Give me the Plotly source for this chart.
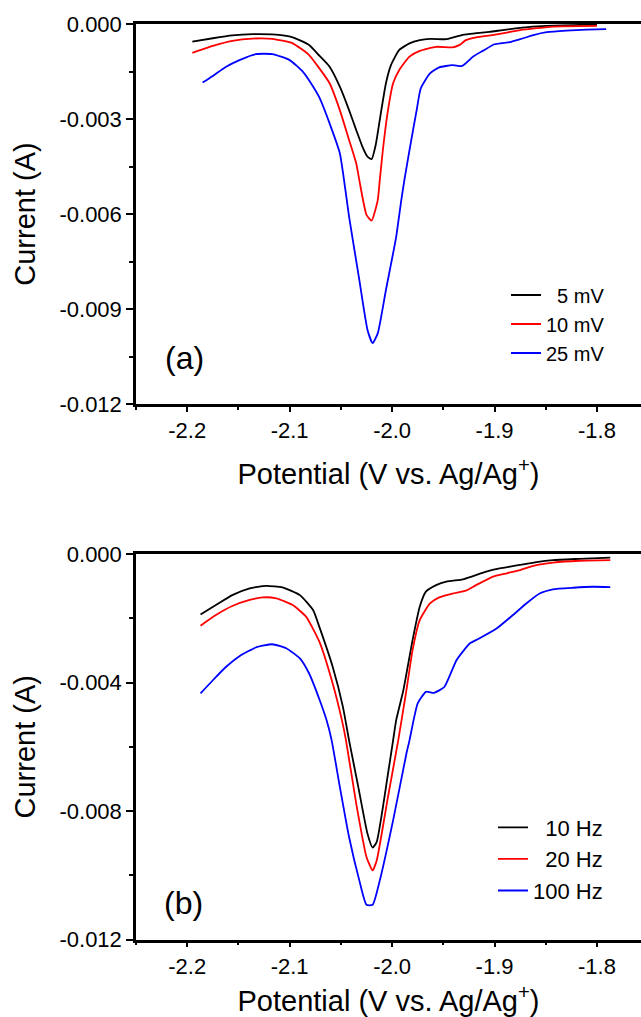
import plotly.graph_objects as go

# ---------------- data ----------------
# Panel (a): pulse amplitude series
pot_5mV = [-2.195, -2.175, -2.156, -2.136, -2.117, -2.097, -2.081, -2.071, -2.061, -2.051,
           -2.042, -2.035, -2.029, -2.024, -2.020, -2.016, -2.011, -2.006, -2.001, -1.993,
           -1.983, -1.973, -1.963, -1.947, -1.941, -1.931, -1.918, -1.905, -1.892, -1.875,
           -1.849, -1.817, -1.800]
cur_5mV = [-0.00056, -0.00045, -0.00036, -0.00032, -0.00033, -0.00042, -0.00066, -0.00100, -0.00135, -0.00198,
           -0.00272, -0.00335, -0.00387, -0.00419, -0.00427, -0.00382, -0.00282, -0.00187, -0.00129, -0.00082,
           -0.00061, -0.00051, -0.00047, -0.00048, -0.00043, -0.00034, -0.00029, -0.00025, -0.00019, -0.00012,
           -0.00006, -0.00003, -0.00002]

pot_10mV = [-2.195, -2.175, -2.156, -2.136, -2.117, -2.097, -2.081, -2.071, -2.061, -2.051,
            -2.042, -2.035, -2.032, -2.025, -2.020, -2.014, -2.012, -2.009, -2.004, -1.999,
            -1.993, -1.983, -1.973, -1.957, -1.941, -1.934, -1.928, -1.918, -1.902, -1.888,
            -1.875, -1.859, -1.843, -1.800]
cur_10mV = [-0.00091, -0.00069, -0.00053, -0.00046, -0.00047, -0.00061, -0.00098, -0.00140, -0.00187, -0.00272,
            -0.00366, -0.00440, -0.00493, -0.00603, -0.00621, -0.00556, -0.00493, -0.00398, -0.00272, -0.00187,
            -0.00145, -0.00103, -0.00085, -0.00072, -0.00074, -0.00066, -0.00051, -0.00042, -0.00035, -0.00027,
            -0.00019, -0.00013, -0.00008, -0.00006]

pot_25mV = [-2.185, -2.175, -2.162, -2.149, -2.133, -2.117, -2.100, -2.087, -2.077, -2.071,
            -2.061, -2.051, -2.042, -2.032, -2.024, -2.019, -2.014, -2.006,
            -1.996, -1.991, -1.988, -1.983, -1.976, -1.972, -1.963, -1.954, -1.941, -1.932,
            -1.928, -1.921, -1.911, -1.900, -1.885, -1.875, -1.862, -1.849, -1.830, -1.810,
            -1.791]
cur_25mV = [-0.00185, -0.00164, -0.00135, -0.00114, -0.00095, -0.00095, -0.00114, -0.00151, -0.00198, -0.00232,
            -0.00314, -0.00408, -0.00608, -0.00808, -0.00966, -0.01008, -0.00977, -0.00840,
            -0.00672, -0.00556, -0.00493, -0.00398, -0.00272, -0.00203, -0.00156, -0.00137, -0.00130, -0.00133,
            -0.00124, -0.00103, -0.00084, -0.00064, -0.00057, -0.00048, -0.00035, -0.00026, -0.00021, -0.00018,
            -0.00016]

# Panel (b): frequency series
pot_10Hz = [-2.187, -2.172, -2.156, -2.139, -2.123, -2.107, -2.090, -2.077, -2.071, -2.058,
            -2.048, -2.042, -2.033, -2.024, -2.019, -2.015, -2.004, -1.999, -1.996,
            -1.989, -1.980, -1.973, -1.967, -1.957, -1.947, -1.931, -1.921, -1.908, -1.895,
            -1.875, -1.859, -1.843, -1.817, -1.787]
cur_10Hz = [-0.00188, -0.00159, -0.00128, -0.00107, -0.00099, -0.00104, -0.00128, -0.00175, -0.00227, -0.00351,
            -0.00476, -0.00580, -0.00725, -0.00871, -0.00914, -0.00896, -0.00684, -0.00580, -0.00517,
            -0.00424, -0.00268, -0.00164, -0.00117, -0.00097, -0.00086, -0.00079, -0.00069, -0.00055, -0.00045,
            -0.00034, -0.00025, -0.00019, -0.00015, -0.00011]

pot_20Hz = [-2.187, -2.172, -2.156, -2.139, -2.126, -2.113, -2.097, -2.084, -2.071, -2.058,
            -2.049, -2.045, -2.035, -2.025, -2.019, -2.015, -2.004, -1.994, -1.986,
            -1.980, -1.973, -1.963, -1.954, -1.941, -1.928, -1.918, -1.902, -1.888, -1.875,
            -1.862, -1.843, -1.817, -1.787]
cur_20Hz = [-0.00223, -0.00190, -0.00162, -0.00143, -0.00135, -0.00138, -0.00159, -0.00195, -0.00273, -0.00403,
            -0.00517, -0.00580, -0.00777, -0.00943, -0.00985, -0.00954, -0.00756, -0.00580, -0.00424,
            -0.00299, -0.00206, -0.00154, -0.00135, -0.00123, -0.00114, -0.00097, -0.00071, -0.00060, -0.00050,
            -0.00037, -0.00027, -0.00021, -0.00019]

pot_100Hz = [-2.187, -2.175, -2.162, -2.149, -2.133, -2.117, -2.103, -2.090, -2.081, -2.071,
             -2.064, -2.059, -2.051, -2.042, -2.032, -2.025, -2.019, -2.012, -1.999, -1.986,
             -1.983, -1.979, -1.975, -1.967, -1.959, -1.949, -1.937, -1.924, -1.915, -1.898,
             -1.882, -1.869, -1.856, -1.843, -1.823, -1.804, -1.787]
cur_100Hz = [-0.00434, -0.00393, -0.00351, -0.00318, -0.00291, -0.00281, -0.00294, -0.00325, -0.00372, -0.00452,
             -0.00517, -0.00580, -0.00725, -0.00881, -0.01016, -0.01092, -0.01092, -0.01016, -0.00829, -0.00621,
             -0.00580, -0.00517, -0.00465, -0.00429, -0.00432, -0.00414, -0.00330, -0.00278, -0.00263, -0.00232,
             -0.00190, -0.00154, -0.00123, -0.00110, -0.00105, -0.00102, -0.00103]

names_a = ["\u00a0\u00a05 mV", "10 mV", "25 mV"]
names_b = ["\u00a0\u00a010 Hz", "\u00a0\u00a020 Hz", "100 Hz"]
colors = ["#000000", "#ff0000", "#0000ff"]

x_tickvals = [-2.2, -2.1, -2.0, -1.9, -1.8]
x_ticktext = ["-2.2", "-2.1", "-2.0", "-1.9", "-1.8"]
x_minor = [-2.25, -2.15, -2.05, -1.95, -1.85]
ya_tickvals = [0.0, -0.003, -0.006, -0.009, -0.012]
ya_ticktext = ["0.000", "-0.003", "-0.006", "-0.009", "-0.012"]
ya_minor = [-0.0015, -0.0045, -0.0075, -0.0105]
yb_tickvals = [0.0, -0.004, -0.008, -0.012]
yb_ticktext = ["0.000", "-0.004", "-0.008", "-0.012"]
yb_minor = [-0.002, -0.006, -0.010]

# ---------------- figure ----------------
FONT = "Liberation Sans, Arial, Helvetica, sans-serif"
W, H = 641, 1017

fig = go.Figure()

series_a = [(pot_5mV, cur_5mV), (pot_10mV, cur_10mV), (pot_25mV, cur_25mV)]
series_b = [(pot_10Hz, cur_10Hz), (pot_20Hz, cur_20Hz), (pot_100Hz, cur_100Hz)]

for i, (xs, ys) in enumerate(series_a):
    fig.add_trace(go.Scatter(x=xs, y=ys, mode="lines", name=names_a[i],
                             line=dict(color=colors[i], width=1.8, shape="spline", smoothing=0.5),
                             xaxis="x", yaxis="y", legend="legend",
                             legendgroup="a%d" % i))
for i, (xs, ys) in enumerate(series_b):
    fig.add_trace(go.Scatter(x=xs, y=ys, mode="lines", name=names_b[i],
                             line=dict(color=colors[i], width=1.8, shape="spline", smoothing=0.5),
                             xaxis="x2", yaxis="y2", legend="legend2",
                             legendgroup="b%d" % i))

x_left, x_right = 136 / W, 1.0
ya_dom = [1 - 404 / H, 1 - 24 / H]
yb_dom = [1 - 939.5 / H, 1 - 554 / H]

axis_common = dict(showgrid=False, zeroline=False, showline=True, linecolor="black",
                   linewidth=2.5, ticks="outside", tickcolor="black", tickwidth=2,
                   automargin=False, tickfont=dict(family=FONT, size=22, color="black"))

xtitle = dict(text="Potential (V vs. Ag/Ag<sup>+</sup>)",
              font=dict(family=FONT, size=29, color="black"), standoff=22)
ytitle = dict(text="Current (A)", font=dict(family=FONT, size=29, color="black"), standoff=16)

fig.update_layout(
    width=W, height=H,
    margin=dict(l=0, r=0, t=0, b=0, pad=0),
    paper_bgcolor="white", plot_bgcolor="white",
    font=dict(family=FONT, color="black"),
    template="none",
    xaxis=dict(domain=[x_left, x_right], range=[-2.25, -1.757], anchor="y",
               tickvals=x_tickvals, ticktext=x_ticktext, ticklen=5, mirror=True,
               minor=dict(tickvals=x_minor, ticks="outside", ticklen=3, tickwidth=2, tickcolor="black"),
               title=xtitle, **axis_common),
    yaxis=dict(domain=ya_dom, range=[-0.012, 0.0], anchor="x",
               tickvals=ya_tickvals, ticktext=ya_ticktext, ticklen=7,
               minor=dict(tickvals=ya_minor, ticks="outside", ticklen=4, tickwidth=2, tickcolor="black"),
               title=ytitle, **axis_common),
    xaxis2=dict(domain=[x_left, x_right], range=[-2.25, -1.757], anchor="y2",
                tickvals=x_tickvals, ticktext=x_ticktext, ticklen=5, mirror=True,
                minor=dict(tickvals=x_minor, ticks="outside", ticklen=3, tickwidth=2, tickcolor="black"),
                title=xtitle, **axis_common),
    yaxis2=dict(domain=yb_dom, range=[-0.012, 0.0], anchor="x2",
                tickvals=yb_tickvals, ticktext=yb_ticktext, ticklen=7,
                minor=dict(tickvals=yb_minor, ticks="outside", ticklen=4, tickwidth=2, tickcolor="black"),
                title=ytitle, **axis_common),
    legend=dict(x=506 / W, y=1 - 324 / H, xanchor="left", yanchor="middle",
                bgcolor="rgba(0,0,0,0)", borderwidth=0, traceorder="grouped",
                tracegroupgap=0, font=dict(family=FONT, size=20, color="black")),
    legend2=dict(x=493 / W, y=1 - 859 / H, xanchor="left", yanchor="middle",
                 bgcolor="rgba(0,0,0,0)", borderwidth=0, traceorder="grouped",
                 tracegroupgap=0, font=dict(family=FONT, size=22, color="black")),
    annotations=[
        dict(text="(a)", x=185 / W, y=1 - 358.5 / H, xref="paper", yref="paper",
             showarrow=False, xanchor="center", yanchor="middle",
             font=dict(family=FONT, size=32, color="black")),
        dict(text="(b)", x=183 / W, y=1 - 903 / H, xref="paper", yref="paper",
             showarrow=False, xanchor="center", yanchor="middle",
             font=dict(family=FONT, size=32, color="black")),
    ],
)

fig.write_html("out.html", config={"displayModeBar": False},
               post_script="document.body.style.margin='0px';document.body.style.padding='0px';")
